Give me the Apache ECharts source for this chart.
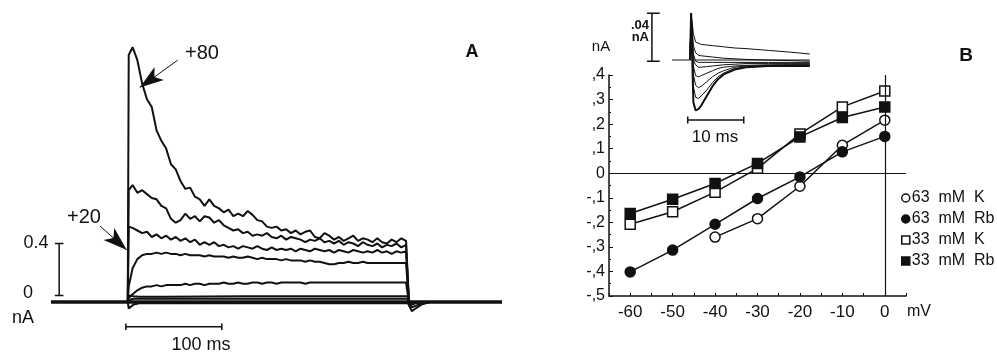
<!DOCTYPE html>
<html>
<head>
<meta charset="utf-8">
<script src="https://cdn.jsdelivr.net/npm/echarts/dist/echarts.min.js"></script>
<style>
  html, body { margin: 0; padding: 0; background: #fff; }
  #chart { width: 997px; height: 357px; }
</style>
</head>
<body>
<div id="chart"></div>
<script>
// ---- panel A: current traces (time in ms, current in nA) ----
const tA = [0, 1,
  5, 10, 15, 20, 25, 30, 35, 40, 45, 50,
  55, 60, 65, 70, 75, 80, 85, 90, 95, 100,
  105, 110, 115, 120, 125, 130, 135, 140, 145, 150,
  155, 160, 165, 170, 175, 180, 185, 190, 195, 200,
  205, 210, 215, 220, 225, 230, 235, 240, 245, 250,
  255, 260, 265, 270, 275, 280, 285, 290,
  292, 293];
const trace80 = [0, 1.90,
  1.96, 1.86, 1.68, 1.56, 1.50, 1.32, 1.24, 1.18, 1.06, 1.02,
  0.93, 0.87, 0.88, 0.81, 0.79, 0.74, 0.79, 0.74, 0.72, 0.69,
  0.71, 0.66, 0.68, 0.66, 0.70, 0.67, 0.63, 0.62, 0.58, 0.57,
  0.58, 0.55, 0.56, 0.53, 0.55, 0.52, 0.54, 0.55, 0.50, 0.49,
  0.53, 0.51, 0.48, 0.50, 0.47, 0.49, 0.51, 0.47, 0.49, 0.48,
  0.46, 0.49, 0.46, 0.45, 0.48, 0.46, 0.49, 0.47,
  0.47, 0];
const trace60 = [0, 0.86,
  0.90, 0.84, 0.86, 0.83, 0.80, 0.79, 0.74, 0.72, 0.64, 0.61,
  0.63, 0.68, 0.64, 0.66, 0.62, 0.66, 0.65, 0.61, 0.63, 0.59,
  0.57, 0.55, 0.56, 0.53, 0.54, 0.51, 0.52, 0.51, 0.53, 0.50,
  0.49, 0.51, 0.48, 0.50, 0.49, 0.48, 0.46, 0.48, 0.47, 0.49,
  0.46, 0.47, 0.45, 0.47, 0.44, 0.46, 0.45, 0.43, 0.46, 0.44,
  0.43, 0.45, 0.42, 0.44, 0.43, 0.45, 0.42, 0.44,
  0.43, 0];
const trace40 = [0, 0.58,
  0.57, 0.55, 0.53, 0.54, 0.50, 0.52, 0.49, 0.51, 0.48, 0.50,
  0.47, 0.49, 0.46, 0.48, 0.44, 0.46, 0.44, 0.46, 0.43, 0.44,
  0.42, 0.43, 0.41, 0.43, 0.42, 0.41, 0.43, 0.41, 0.40, 0.42,
  0.40, 0.41, 0.40, 0.41, 0.39, 0.41, 0.40, 0.39, 0.41, 0.40,
  0.39, 0.40, 0.38, 0.40, 0.39, 0.38, 0.40, 0.39, 0.38, 0.39,
  0.38, 0.40, 0.38, 0.39, 0.37, 0.39, 0.38, 0.39,
  0.38, 0];
const trace20 = [0, 0.12,
  0.26, 0.33, 0.36, 0.37, 0.37, 0.38, 0.37, 0.38, 0.37, 0.37,
  0.36, 0.37, 0.36, 0.36, 0.36, 0.35, 0.36, 0.35, 0.35, 0.35,
  0.34, 0.35, 0.34, 0.34, 0.35, 0.34, 0.33, 0.34, 0.33, 0.33,
  0.33, 0.32, 0.33, 0.32, 0.32, 0.32, 0.31, 0.32, 0.31, 0.31,
  0.30, 0.29, 0.29, 0.30, 0.30, 0.31, 0.30, 0.30, 0.31, 0.30,
  0.30, 0.30, 0.30, 0.30, 0.30, 0.30, 0.30, 0.30,
  0.30, 0];
const trace0 = [0, 0.03,
  0.06, 0.09, 0.11, 0.12, 0.12, 0.13, 0.12, 0.13, 0.13, 0.13,
  0.13, 0.14, 0.13, 0.14, 0.14, 0.13, 0.14, 0.14, 0.14, 0.15,
  0.14, 0.14, 0.15, 0.14, 0.14, 0.15, 0.15, 0.14, 0.15, 0.15,
  0.14, 0.15, 0.15, 0.15, 0.15, 0.15, 0.14, 0.15, 0.15, 0.15,
  0.15, 0.15, 0.15, 0.15, 0.15, 0.15, 0.15, 0.15, 0.15, 0.15,
  0.15, 0.15, 0.15, 0.15, 0.15, 0.15, 0.15, 0.15,
  0.15, 0];
// small traces close to the baseline
const tLow = [0, 1, 3, 6, 12, 40, 120, 200, 292, 293, 296, 300, 306, 315];
const low1 = [0, 0.05, 0.05, 0.045, 0.04, 0.04, 0.045, 0.045, 0.045, 0, -0.02, -0.01, 0, 0];
const low2 = [0, 0.0, 0.02, 0.025, 0.025, 0.025, 0.025, 0.025, 0.025, 0, -0.04, -0.03, -0.01, 0];
const low3 = [0, -0.05, -0.04, -0.02, -0.01, -0.01, -0.01, -0.01, -0.01, 0, -0.07, -0.05, -0.02, 0];
const baseA = [[-80, 0], [390, 0]];
// scale bars of panel A: 0.4 nA and 100 ms
const barCurrentA = [[-76, 0.45], [-67, 0.45], [-71.5, 0.45], [-71.5, 0.05], [-76, 0.05], [-67, 0.05]];
const barTimeA = [[-2, -0.165], [-2, -0.215], [-2, -0.19], [98, -0.19], [98, -0.165], [98, -0.215]];
// arrows (tail -> tip) pointing at the +80 and +20 traces
const arrow80 = [[52, 1.86], [12.5, 1.65]];
const arrow20 = [[-29, 0.585], [-1, 0.40]];

// ---- panel B: I-V relation ----
const mV = [-60, -50, -40, -30, -20, -10, 0];
const k63 = [null, null, -0.26, -0.185, -0.053, 0.114, 0.216];
const rb63 = [-0.402, -0.313, -0.208, -0.103, -0.015, 0.087, 0.150];
const k33 = [-0.208, -0.157, -0.077, 0.02, 0.16, 0.27, 0.335];
const rb33 = [-0.164, -0.106, -0.042, 0.04, 0.148, 0.227, 0.27];
const xTickLabels = ['-60', '-50', '-40', '-30', '-20', '-10', '0'];
const yTickLabels = ['-,5', '-,4', '-,3', '-,2', '-,1', '0', ',1', ',2', ',3', ',4'];

// ---- inset of panel B: tail currents (ms, nA) ----
const tIn = [0, 0.2, 0.6, 1, 1.5, 2, 3, 4, 5, 6, 8, 10, 14, 18, 21.4];
const in1 = [0, 0.039, 0.022, 0.015, 0.014, 0.013, 0.0125, 0.012, 0.0115, 0.011, 0.010, 0.0095, 0.008, 0.0065, 0.005];
const in2 = [0, 0.039, 0.012, 0.006, 0.004, 0.0035, 0.003, 0.0025, 0.002, 0.0015, 0.001, 0.0005, 0, -0.0005, -0.001];
const in3 = [0, 0.039, 0.005, -0.001, -0.002, -0.002, -0.002, -0.002, -0.002, -0.002, -0.002, -0.002, -0.002, -0.002, -0.002];
const in4 = [0, 0.039, 0.0, -0.004, -0.006, -0.006, -0.0055, -0.005, -0.0045, -0.004, -0.0035, -0.003, -0.003, -0.003, -0.003];
const in5 = [0, 0.039, -0.005, -0.013, -0.014, -0.013, -0.011, -0.009, -0.007, -0.006, -0.005, -0.0045, -0.004, -0.004, -0.004];
const in6 = [0, 0.039, -0.012, -0.021, -0.023, -0.022, -0.018, -0.014, -0.011, -0.009, -0.006, -0.005, -0.0045, -0.004, -0.004];
const in7 = [0, 0.039, -0.022, -0.031, -0.032, -0.030, -0.025, -0.019, -0.014, -0.011, -0.007, -0.006, -0.005, -0.0045, -0.0045];
const in8 = [0, 0.039, -0.035, -0.042, -0.041, -0.038, -0.030, -0.022, -0.016, -0.012, -0.008, -0.006, -0.005, -0.005, -0.005];
const baseIn = [[-3.2, 0], [21.4, 0]];
const barCurrentIn = [[-8.2, 0.039], [-5.4, 0.039], [-6.8, 0.039], [-6.8, -0.001], [-8.2, -0.001], [-5.4, -0.001]];
const barTimeIn = [[-0.4, -0.047], [-0.4, -0.053], [-0.4, -0.05], [9.6, -0.05], [9.6, -0.047], [9.6, -0.053]];

const zip = (xs, ys) => xs.map((x, i) => [x, ys[i]]);
const ink = '#111';
const FONT = 'Liberation Sans';

const trace = (data, width, gi) => ({
  type: 'line', xAxisIndex: gi, yAxisIndex: gi, data: data,
  symbol: 'none', silent: true, lineStyle: { color: ink, width: width }
});
const arrow = (pts) => ({
  type: 'line', xAxisIndex: 0, yAxisIndex: 0, data: [], silent: true,
  markLine: {
    silent: true, symbol: ['none', 'arrow'], symbolSize: [12, 24],
    label: { show: false }, lineStyle: { color: ink, width: 1, type: 'solid' },
    itemStyle: { color: ink },
    data: [[{ coord: pts[0] }, { coord: pts[1] }]]
  }
});
const ivSeries = (name, ys, symbol, filled) => ({
  name: name, type: 'line', xAxisIndex: 1, yAxisIndex: 1,
  data: zip(mV, ys), symbol: symbol, symbolSize: 10,
  lineStyle: { color: ink, width: 1.5 },
  itemStyle: { color: filled ? ink : '#fff', borderColor: ink, borderWidth: 1.5 }
});
const txt = (text, x, y, size, extra) => ({
  type: 'text', x: x, y: y,
  style: Object.assign({ text: text, font: size + 'px "' + FONT + '"', fill: ink, align: 'center', verticalAlign: 'middle' }, extra || {})
});

const chart = echarts.init(document.getElementById('chart'));
chart.setOption({
  animation: false,
  backgroundColor: '#fff',
  textStyle: { fontFamily: FONT, color: ink },
  grid: [
    { left: 51, top: 42, width: 451, height: 299 },
    { left: 609, top: 75, width: 297, height: 221 },
    { left: 648, top: 9.6, width: 162.4, height: 116.4 }
  ],
  xAxis: [
    { gridIndex: 0, type: 'value', min: -80, max: 390, show: false },
    {
      gridIndex: 1, type: 'value', min: -65, max: 5, interval: 5,
      axisLine: { onZero: false, lineStyle: { color: ink, width: 1.5 } },
      axisTick: { inside: true, length: 3, lineStyle: { color: ink } },
      splitLine: { show: false },
      axisLabel: {
        color: ink, fontSize: 17, margin: 8,
        formatter: v => { const i = mV.indexOf(v); return i < 0 ? '' : xTickLabels[i]; }
      }
    },
    { gridIndex: 2, type: 'value', min: -7.5, max: 21.5, show: false }
  ],
  yAxis: [
    { gridIndex: 0, type: 'value', min: -0.3, max: 2.0, show: false },
    {
      gridIndex: 1, type: 'value', min: -0.5, max: 0.4, interval: 0.1,
      axisLine: { show: true, onZero: false, lineStyle: { color: ink, width: 1.5 } },
      axisTick: { show: true, inside: true, length: 4, lineStyle: { color: ink } },
      minorTick: { show: true, splitNumber: 2, length: 2, lineStyle: { color: ink } },
      splitLine: { show: false },
      axisLabel: {
        color: ink, fontSize: 16, margin: 4,
        formatter: v => yTickLabels[Math.round((v + 0.5) * 10)]
      }
    },
    { gridIndex: 2, type: 'value', min: -0.055, max: 0.042, show: false }
  ],
  legend: {
    orient: 'vertical', left: 896, top: 185, itemGap: 5,
    itemWidth: 8, itemHeight: 8, itemStyle: { borderWidth: 1.5 },
    textStyle: { fontSize: 16, color: ink, fontFamily: FONT, padding: [0, 0, 0, -3] },
    formatter: n => n.replace(/ /g, '  '),
    data: [
      { name: '63 mM K', icon: 'circle' },
      { name: '63 mM Rb', icon: 'circle' },
      { name: '33 mM K', icon: 'rect' },
      { name: '33 mM Rb', icon: 'rect' }
    ]
  },
  series: [
    // panel A
    trace(baseA, 3.5, 0),
    trace(zip(tLow, low3), 2, 0),
    trace(zip(tLow, low2), 2, 0),
    trace(zip(tLow, low1), 2, 0),
    trace(zip(tA, trace0), 2, 0),
    trace(zip(tA, trace20), 2, 0),
    trace(zip(tA, trace40), 2, 0),
    trace(zip(tA, trace60), 2, 0),
    trace(zip(tA, trace80), 2, 0),
    trace(barCurrentA, 1.5, 0),
    trace(barTimeA, 1.5, 0),
    arrow(arrow80),
    arrow(arrow20),
    // panel B
    Object.assign(ivSeries('63 mM K', k63, 'circle', false), {
      markLine: {
        silent: true, symbol: 'none', label: { show: false },
        lineStyle: { color: ink, width: 1.2, type: 'solid' },
        data: [{ yAxis: 0 }, { xAxis: 0 }]
      }
    }),
    ivSeries('63 mM Rb', rb63, 'circle', true),
    ivSeries('33 mM K', k33, 'rect', false),
    ivSeries('33 mM Rb', rb33, 'rect', true),
    // inset
    trace(baseIn, 1, 2),
    trace(zip(tIn, in1), 1, 2),
    trace(zip(tIn, in2), 1, 2),
    trace(zip(tIn, in3), 1, 2),
    trace(zip(tIn, in4), 1, 2),
    trace(zip(tIn, in5), 1, 2),
    trace(zip(tIn, in6), 1, 2),
    trace(zip(tIn, in7), 1, 2),
    trace(zip(tIn, in8), 2, 2),
    trace(barCurrentIn, 1.5, 2),
    trace(barTimeIn, 1.5, 2)
  ],
  graphic: [
    txt('A', 472, 52, 18, { font: 'bold 18px "' + FONT + '"' }),
    txt('B', 966, 56, 19, { font: 'bold 19px "' + FONT + '"' }),
    txt('+80', 202, 53, 20),
    txt('+20', 84, 217, 20),
    txt('0.4', 36, 243, 18),
    txt('0', 28, 293, 18),
    txt('nA', 23, 318, 18),
    txt('100 ms', 201, 345, 18),
    txt('nA', 601, 47, 15),
    txt('.04', 649, 25, 13, { font: 'bold 13px "' + FONT + '"', align: 'right' }),
    txt('nA', 649, 37, 13, { font: 'bold 13px "' + FONT + '"', align: 'right' }),
    txt('10 ms', 715, 137, 17),
    txt('mV', 919, 312, 16)
  ]
});
</script>
</body>
</html>
